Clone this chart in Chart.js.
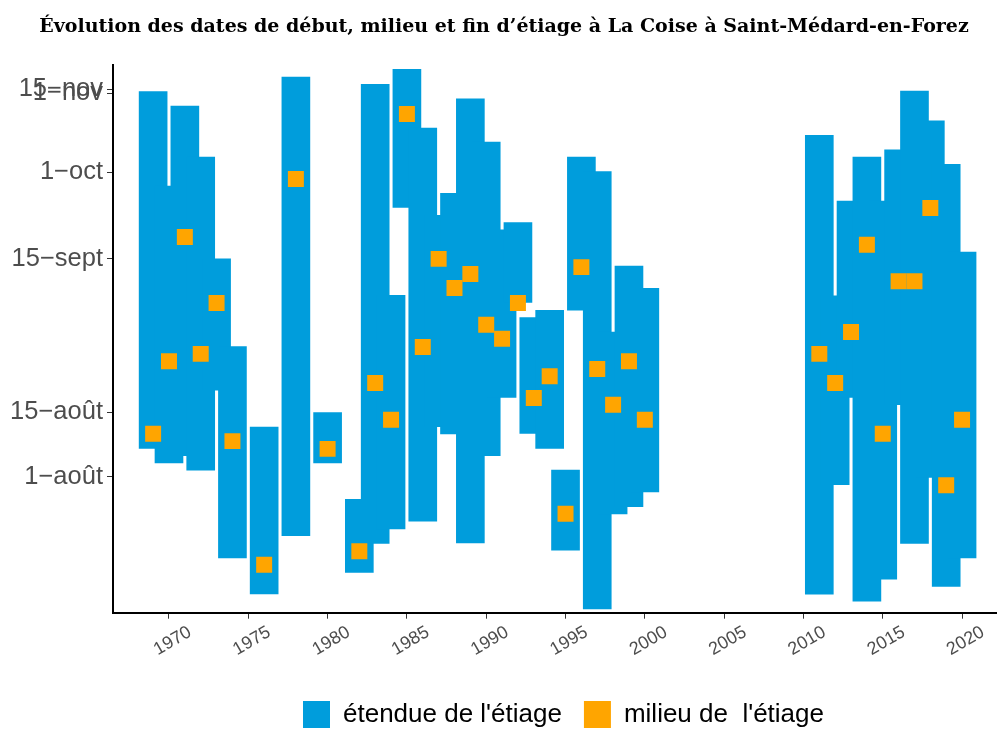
<!DOCTYPE html>
<html>
<head>
<meta charset="utf-8">
<script src="https://cdn.jsdelivr.net/npm/chart.js@4.4.1/dist/chart.umd.min.js"></script>
<style>
  html, body { margin: 0; padding: 0; background: #fff; overflow: hidden; }
  #wrap { position: relative; width: 997px; height: 729px; }
</style>
</head>
<body>
<div id="wrap"><canvas id="chEtiage"></canvas></div>
<script>
/* étiages de la Coise : début, milieu et fin (jour de l'année) */

var annees = [1969, 1970, 1971, 1972, 1973, 1974, 1976, 1978, 1980,
  1982, 1983, 1984, 1985, 1986, 1987, 1988, 1989, 1990, 1991, 1992,
  1993, 1994, 1995, 1996, 1997, 1998, 1999, 2000,
  2011, 2012, 2013, 2014, 2015, 2016, 2017, 2018, 2019, 2020];

var debut = [218.9, 215.9, 217.4, 214.4, 230.9, 196.3, 188.9, 200.9, 215.9,
  193.3, 199.3, 202.3, 268.6, 203.9, 223.4, 221.9, 199.4, 217.4, 229.4, 249.0,
  222.0, 218.9, 197.9, 247.4, 185.8, 205.4, 206.9, 209.9,
  188.8, 211.4, 229.4, 187.4, 191.9, 227.9, 199.3, 212.9, 190.4, 196.3];

var fin = [292.5, 273.0, 289.5, 279.0, 258.0, 239.9, 223.3, 295.5, 226.3,
  208.4, 294.0, 250.5, 297.1, 285.0, 267.0, 271.5, 291.0, 282.1, 264.0, 265.5,
  245.9, 247.4, 214.4, 279.0, 276.0, 242.9, 256.5, 251.9,
  283.5, 250.4, 269.9, 279.0, 269.9, 280.5, 292.6, 286.5, 277.5, 259.4];

var milieu = [221.9, 236.9, 262.5, 238.4, 248.9, 220.4, 194.9, 274.5, 218.8,
  197.7, 232.4, 224.8, 287.9, 239.8, 258.0, 252.0, 254.9, 244.4, 241.5, 248.9,
  229.3, 233.8, 205.4, 256.3, 235.3, 227.9, 236.9, 224.8,
  238.4, 232.4, 242.9, 260.9, 221.9, 253.4, 253.4, 268.5, 211.3, 224.8];

// graduations
var tickAnnees = [1970, 1975, 1980, 1985, 1990, 1995, 2000, 2005, 2010, 2015, 2020];
var tickJours = [213, 226.4, 258, 275.9, 292.2, 293.0];
var tickLabels = ['1\u2212ao\u00fbt', '15\u2212ao\u00fbt', '15\u2212sept', '1\u2212oct', '1\u2212nov', '15\u2212nov'];

var bleu = "#009ddc";
var orange = "#ffa500";

Chart.defaults.font.family = "'Liberation Sans', Arial, sans-serif";

var etendue = annees.map(function (a, i) {
  return { x: a, y: [debut[i], fin[i]] };
});
var milieux = annees.map(function (a, i) {
  return { x: a, y: milieu[i] };
});

// titre et légende un peu décalés vers la droite
var decalage = {
  id: 'decalage',
  afterLayout: function (chart) {
    chart.legend.left += 9;
    chart.legend.right += 9;
    chart.titleBlock.left += 6;
    chart.titleBlock.right += 6;
  }
};

new Chart(document.getElementById("chEtiage"), {
  type: 'bar',
  data: {
    datasets: [
      {
        label: "\u00e9tendue de l'\u00e9tiage",
        data: etendue,
        backgroundColor: bleu,
        borderWidth: 0,
        barThickness: 28,
        order: 2
      },
      {
        type: 'scatter',
        label: "milieu de  l'\u00e9tiage",
        data: milieux,
        backgroundColor: orange,
        borderColor: orange,
        borderWidth: 0,
        pointStyle: 'rect',
        pointRadius: 11.3,
        pointHoverRadius: 11.3,
        order: 1
      }
    ]
  },
  options: {
    responsive: true,
    maintainAspectRatio: false,
    animation: false,
    layout: { autoPadding: false, padding: { left: 0, right: 1, top: 0, bottom: 0 } },
    scales: {
      x: {
        type: 'linear',
        offset: false,
        min: 1966.47,
        max: 2022.14,
        afterFit: function (scale) {
          scale.height = 66.3;
          scale.paddingLeft = 0;
          scale.paddingRight = 0;
        },
        afterBuildTicks: function (scale) {
          scale.ticks = tickAnnees.map(function (v) { return { value: v }; });
        },
        grid: { drawOnChartArea: false, offset: false, tickLength: 6, color: '#333', lineWidth: 1 },
        border: { color: '#000', width: 2 },
        ticks: {
          autoSkip: false,
          minRotation: 30,
          maxRotation: 30,
          labelOffset: 21,
          padding: 3,
          color: '#4d4d4d',
          font: { size: 18 },
          callback: function (v) { return String(v); }
        }
      },
      y: {
        type: 'linear',
        min: 185,
        max: 298,
        afterFit: function (scale) {
          scale.width = 113;
          scale.paddingTop = 0;
          scale.paddingBottom = 0;
        },
        afterBuildTicks: function (scale) {
          scale.ticks = tickJours.map(function (v) { return { value: v }; });
        },
        grid: { drawOnChartArea: false, tickLength: 6, color: '#333', lineWidth: 1 },
        border: { color: '#000', width: 2 },
        ticks: {
          autoSkip: false,
          padding: 4,
          color: '#4d4d4d',
          font: { size: 25.5 },
          callback: function (v, i) { return tickLabels[i]; }
        }
      }
    },
    plugins: {
      title: {
        display: true,
        text: "\u00c9volution des dates de d\u00e9but, milieu et fin d\u2019\u00e9tiage \u00e0 La Coise \u00e0 Saint-M\u00e9dard-en-Forez",
        color: '#000',
        font: { family: "'DejaVu Serif', serif", weight: 'bold', size: 19, lineHeight: 1.2 },
        padding: { top: 16, bottom: 26.2 }
      },
      legend: {
        position: 'bottom',
        fullSize: false,
        maxHeight: 50,
        labels: {
          boxWidth: 27,
          boxHeight: 27,
          padding: 22,
          color: '#000',
          font: { size: 26 },
          sort: function (a, b) { return a.datasetIndex - b.datasetIndex; }
        }
      },
      tooltip: { enabled: false }
    }
  },
  plugins: [decalage]
});
</script>
</body>
</html>
